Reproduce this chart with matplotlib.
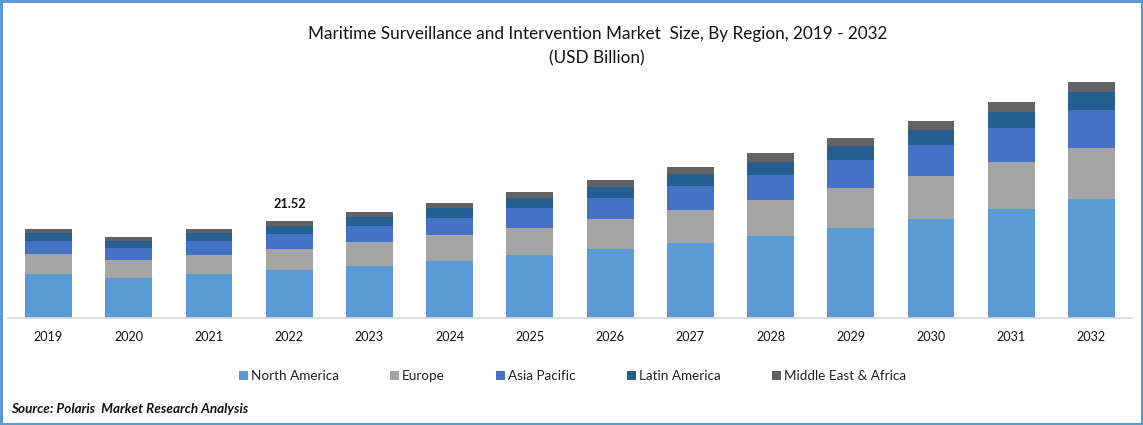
import matplotlib
matplotlib.use('Agg')
import numpy as np
import matplotlib.pyplot as plt
from matplotlib.patches import Rectangle

plt.rcParams['font.family'] = ['Lato', 'DejaVu Sans']

years = ['2019', '2020', '2021', '2022', '2023', '2024', '2025',
         '2026', '2027', '2028', '2029', '2030', '2031', '2032']
north_america = [9.76, 8.87, 9.76, 10.65, 11.54, 12.64, 13.98, 15.31, 16.64, 18.19, 19.97, 21.97, 24.19, 26.41]
europe = [4.44, 3.99, 4.22, 4.66, 5.33, 5.77, 5.99, 6.66, 7.32, 7.99, 8.88, 9.54, 10.43, 11.32]
asia_pacific = [2.88, 2.66, 3.11, 3.33, 3.55, 3.77, 4.44, 4.66, 5.33, 5.55, 6.21, 6.88, 7.55, 8.43]
latin_america = [1.78, 1.55, 1.78, 1.78, 2.00, 2.22, 2.22, 2.44, 2.66, 2.89, 3.11, 3.33, 3.55, 3.99]
mea = [0.89, 0.89, 0.89, 1.10, 1.11, 1.11, 1.33, 1.55, 1.55, 2.00, 1.78, 2.00, 2.22, 2.22]

regions = ['North America', 'Europe', 'Asia Pacific', 'Latin America', 'Middle East & Africa']
colors = ['#5B9BD5', '#A5A5A5', '#4472C4', '#255E91', '#636363']
series = [north_america, europe, asia_pacific, latin_america, mea]

fig = plt.figure(figsize=(11.43, 4.25), dpi=100)
W, H = 1143, 425

# axes spans the baseline width, bottom edge sits on y=318 px
ax = fig.add_axes([8 / W, 1 - 318 / H, (1132 - 8) / W, (318 - 70) / H])

x = np.arange(len(years))
bottom = np.zeros(len(years))
for vals, name, c in zip(series, regions, colors):
    ax.bar(x, vals, 0.585, bottom=bottom, color=c, label=name, linewidth=0)
    bottom = bottom + np.array(vals)

ax.set_xlim(-0.505, 13.505)
ax.set_ylim(0, 248 * 21.52 / 97)
ax.set_xticks(x)
ax.set_xticklabels(years, fontsize=9.1, color='#111111')
ax.tick_params(axis='x', length=0, pad=9.3)
ax.set_yticks([])
for s in ['top', 'left', 'right']:
    ax.spines[s].set_visible(False)
ax.spines['bottom'].set_color('#D9D9D9')
ax.spines['bottom'].set_linewidth(1.2)

# only 2022 carries a label in the original
ax.text(3.01, sum(s[3] for s in series) + 3.75, '21.52', ha='center', va='center',
        fontsize=9.2, fontweight='bold', color='#111111')

fig.legend(loc='center', bbox_to_anchor=(572.5 / W, 1 - 376 / H), ncol=5, frameon=False,
           fontsize=9.7, handlelength=0.65, handleheight=0.65, handletextpad=0.2,
           columnspacing=3.85, labelcolor='#222222')

fig.text(597.5 / W, 1 - 34 / H, 'Maritime Surveillance and Intervention Market  Size, By Region, 2019 - 2032',
         ha='center', va='center', fontsize=12.3, color='#111111')
fig.text(597 / W, 1 - 58 / H, '(USD Billion)', ha='center', va='center', fontsize=12.3, color='#111111')
fig.text(11 / W, 1 - 409 / H, 'Source: Polaris  Market Research Analysis', ha='left', va='center',
         fontsize=9.7, fontweight='bold', fontstyle='italic', color='#111111')

# blue outer frame
fig.add_artist(Rectangle((1 / W, 1 / H), (W - 2.5) / W, (H - 2) / H, transform=fig.transFigure,
                         fill=False, edgecolor='#5B9BD5', linewidth=2.2))

fig.savefig('out.png', dpi=100)
